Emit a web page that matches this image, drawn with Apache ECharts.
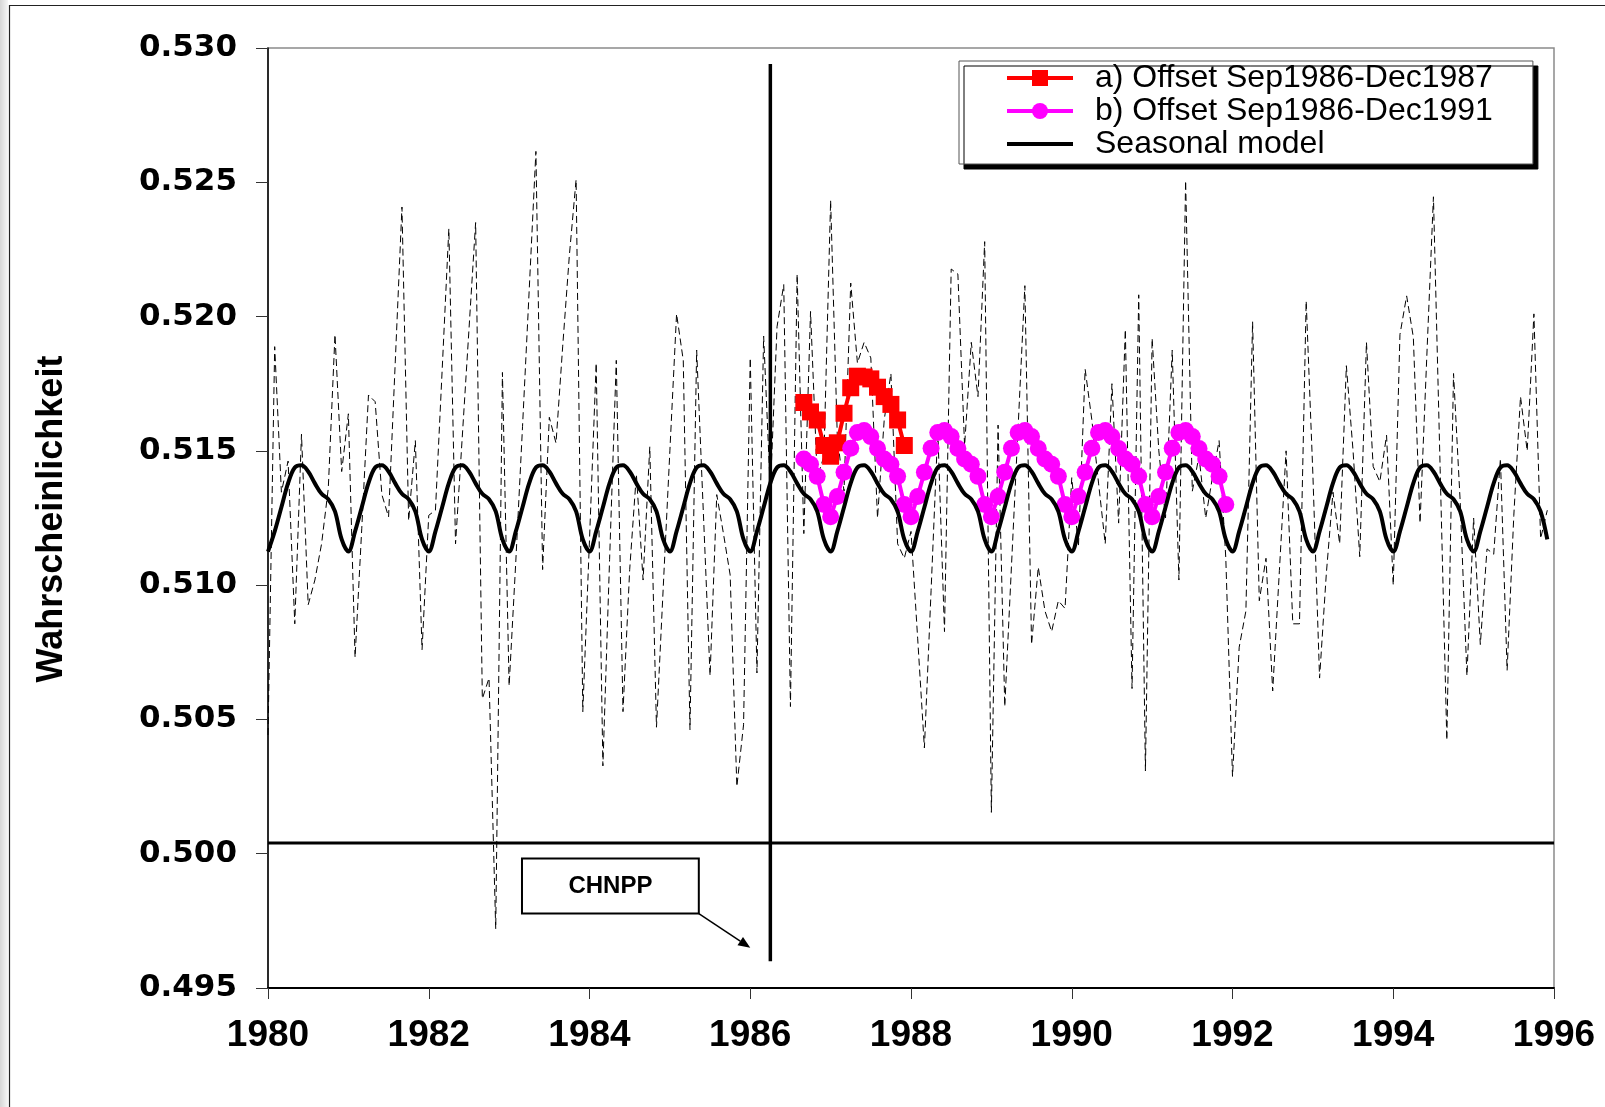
<!DOCTYPE html>
<html>
<head>
<meta charset="utf-8">
<script src="https://cdn.jsdelivr.net/npm/echarts@6/dist/echarts.min.js"></script>
<style>
  html, body { margin: 0; padding: 0; background: #fff; }
  #chart { width: 1605px; height: 1107px; }
</style>
</head>
<body>
<div id="chart"></div>
<script>
// Monthly observed values, Jan 1980 .. Dec 1995 (one row per year)
const observed = [
  0.50442, 0.51888, 0.51346, 0.51462, 0.50856, 0.51562, 0.50927, 0.51019, 0.51154, 0.51360, 0.51933, 0.51423,
  0.51638, 0.50731, 0.51212, 0.51708, 0.51683, 0.51337, 0.51254, 0.51831, 0.52408, 0.51240, 0.51538, 0.50760,
  0.51260, 0.51279, 0.51800, 0.52327, 0.51154, 0.51550, 0.51950, 0.52350, 0.50577, 0.50654, 0.49720, 0.51792,
  0.50625, 0.51090, 0.51590, 0.52100, 0.52615, 0.51058, 0.51625, 0.51529, 0.51890, 0.52230, 0.52510, 0.50529,
  0.51170, 0.51827, 0.50327, 0.51096, 0.51837, 0.50529, 0.51058, 0.51413, 0.51019, 0.51515, 0.50471, 0.50987,
  0.51500, 0.52010, 0.51837, 0.50462, 0.51875, 0.51269, 0.50663, 0.51337, 0.51192, 0.51038, 0.50250, 0.50480,
  0.51846, 0.50673, 0.51927, 0.51350, 0.51962, 0.52119, 0.50548, 0.52158, 0.51192, 0.52019, 0.51400, 0.51480,
  0.52433, 0.51550, 0.51350, 0.52125, 0.51827, 0.51904, 0.51846, 0.51250, 0.51615, 0.51788, 0.51154, 0.51100,
  0.51200, 0.50800, 0.50394, 0.50981, 0.51577, 0.50827, 0.52177, 0.52158, 0.51519, 0.51904, 0.51702, 0.52279,
  0.50154, 0.51596, 0.50548, 0.51071, 0.51592, 0.52115, 0.50779, 0.51067, 0.50904, 0.50827, 0.50942, 0.50913,
  0.51400, 0.51144, 0.51804, 0.51615, 0.51380, 0.51154, 0.51750, 0.51231, 0.51952, 0.50615, 0.52081, 0.50308,
  0.51919, 0.51500, 0.51250, 0.51875, 0.51019, 0.52506, 0.51350, 0.51480, 0.51250, 0.51400, 0.51538, 0.51100,
  0.50288, 0.50769, 0.50904, 0.51981, 0.50942, 0.51100, 0.50606, 0.51054, 0.51500, 0.50856, 0.50856, 0.52058,
  0.51413, 0.50654, 0.51040, 0.51346, 0.51154, 0.51817, 0.51500, 0.51106, 0.51904, 0.51442, 0.51385, 0.51558,
  0.51000, 0.51933, 0.52077, 0.51923, 0.51231, 0.51846, 0.52446, 0.51435, 0.50423, 0.51788, 0.51308, 0.50663,
  0.51250, 0.50779, 0.51135, 0.51115, 0.51471, 0.50683, 0.51260, 0.51702, 0.51500, 0.52010, 0.51173, 0.51279
];
const observedStart = 1980;

// Seasonal model: the same monthly profile (Jan..Dec) in every year 1980..1995
const seasonalProfile = [0.51125, 0.51200, 0.51290, 0.51380, 0.51438, 0.51446, 0.51423, 0.51379, 0.51340, 0.51320, 0.51275, 0.51170];
const modelYears = [1980, 1981, 1982, 1983, 1984, 1985, 1986, 1987, 1988, 1989, 1990, 1991, 1992, 1993, 1994, 1995];

// a) model with offset, Sep 1986 .. Dec 1987
const offsetA = [
  0.51680, 0.51645, 0.51615, 0.51520,
  0.51480, 0.51530, 0.51640, 0.51735, 0.51778, 0.51775, 0.51768, 0.51737, 0.51702, 0.51673, 0.51615, 0.51520
];
// b) model with offset, Sep 1986 .. Dec 1991
const offsetB = [
  0.51470, 0.51450, 0.51405, 0.51300,
  0.51255, 0.51330, 0.51420, 0.51510, 0.51568, 0.51576, 0.51553, 0.51509, 0.51470, 0.51450, 0.51405, 0.51300,
  0.51255, 0.51330, 0.51420, 0.51510, 0.51568, 0.51576, 0.51553, 0.51509, 0.51470, 0.51450, 0.51405, 0.51300,
  0.51255, 0.51330, 0.51420, 0.51510, 0.51568, 0.51576, 0.51553, 0.51509, 0.51470, 0.51450, 0.51405, 0.51300,
  0.51255, 0.51330, 0.51420, 0.51510, 0.51568, 0.51576, 0.51553, 0.51509, 0.51470, 0.51450, 0.51405, 0.51300,
  0.51255, 0.51330, 0.51420, 0.51510, 0.51568, 0.51576, 0.51553, 0.51509, 0.51470, 0.51450, 0.51405, 0.51300
];
const offsetStart = 1986 + 8 / 12;   // September 1986

// reference markers
const accidentDate = 1986.25;          // April 1986
const accidentSpan = [0.4960, 0.5294];
const baselineLevel = 0.5004;

// axes
const xRange = [1980, 1996];
const xStep = 2;
const yRange = [0.495, 0.530];
const yStep = 0.005;

const nameA = 'a) Offset Sep1986-Dec1987';
const nameB = 'b) Offset Sep1986-Dec1991';
const nameS = 'Seasonal model';

function monthly(start, values) {
  return values.map((v, i) => [start + i / 12, v]);
}
const seasonalValues = [];
modelYears.forEach(() => seasonalProfile.forEach(v => seasonalValues.push(v)));

const chart = echarts.init(document.getElementById('chart'), null, { renderer: 'canvas' });

chart.setOption({
  animation: false,
  backgroundColor: '#ffffff',
  grid: {
    left: 268, right: 51, top: 48, bottom: 119,
    show: true, borderColor: '#8a8a8a', borderWidth: 1.5, backgroundColor: 'transparent'
  },
  xAxis: {
    type: 'value', min: xRange[0], max: xRange[1], interval: xStep,
    axisLine: { show: true, onZero: false, lineStyle: { color: '#000', width: 2 } },
    axisTick: { show: true, length: 11, lineStyle: { color: '#333', width: 1 } },
    axisLabel: {
      margin: 29, fontSize: 37, fontFamily: 'Liberation Sans', fontWeight: 'bold', color: '#000',
      showMinLabel: true, showMaxLabel: true,
      formatter: v => String(Math.round(v))
    },
    splitLine: { show: false }
  },
  yAxis: {
    type: 'value', min: yRange[0], max: yRange[1], interval: yStep,
    axisLine: { show: true, onZero: false, lineStyle: { color: '#000', width: 1.5 } },
    axisTick: { show: true, length: 12, lineStyle: { color: '#333', width: 1 } },
    axisLabel: {
      margin: 31, fontSize: 31, fontFamily: 'DejaVu Sans', fontWeight: 'bold', color: '#000',
      formatter: v => v.toFixed(3)
    },
    splitLine: { show: false }
  },
  legend: {
    orient: 'vertical', left: 959, top: 61,
    data: [
      { name: nameA },
      { name: nameB },
      { name: nameS, itemStyle: { opacity: 0 } }
    ],
    selectedMode: false,
    itemWidth: 66, itemHeight: 20, itemGap: 1,
    padding: [1, 40, 4, 46],
    lineStyle: { width: 4 },
    backgroundColor: '#ffffff', borderColor: '#555', borderWidth: 1,
    shadowColor: '#000', shadowBlur: 0, shadowOffsetX: 5, shadowOffsetY: 5,
    textStyle: { fontFamily: 'Liberation Sans', fontSize: 32, color: '#000', lineHeight: 32, padding: [0, 0, 0, 17] }
  },
  series: [
    {
      name: 'Monthly values', type: 'line', data: monthly(observedStart, observed),
      symbol: 'none', silent: true, z: 1,
      lineStyle: { color: '#000', width: 1, type: [7, 4] }
    },
    {
      name: nameA, type: 'line', data: monthly(offsetStart, offsetA),
      symbol: 'rect', symbolSize: 17, showAllSymbol: true, z: 3,
      itemStyle: { color: '#ff0000' }, lineStyle: { color: '#ff0000', width: 4 }
    },
    {
      name: nameB, type: 'line', data: monthly(offsetStart, offsetB),
      symbol: 'circle', symbolSize: 17, showAllSymbol: true, z: 4,
      itemStyle: { color: '#ff00ff' }, lineStyle: { color: '#ff00ff', width: 4 }
    },
    {
      name: nameS, type: 'line', data: monthly(modelYears[0], seasonalValues),
      symbol: 'none', smooth: 0.35, z: 5,
      itemStyle: { color: '#000' }, lineStyle: { color: '#000', width: 4 }
    },
    {
      name: 'accident', type: 'line', silent: true, symbol: 'none', z: 6,
      data: [[accidentDate, accidentSpan[0]], [accidentDate, accidentSpan[1]]],
      lineStyle: { color: '#000', width: 3.5 }
    },
    {
      name: 'baseline', type: 'line', silent: true, symbol: 'none', z: 6,
      data: [[xRange[0], baselineLevel], [xRange[1], baselineLevel]],
      lineStyle: { color: '#000', width: 3 }
    }
  ]
});

// annotation box with arrow, anchored in data coordinates
const boxTL = chart.convertToPixel({ gridIndex: 0 }, [1983.16, 0.49982]);
const boxBR = chart.convertToPixel({ gridIndex: 0 }, [1985.36, 0.49777]);
const tip = chart.convertToPixel({ gridIndex: 0 }, [1986.0, 0.4965]);
const ang = Math.atan2(tip[1] - boxBR[1], tip[0] - boxBR[0]);
const headLen = 12, headW = 5;
const hb = [tip[0] - headLen * Math.cos(ang), tip[1] - headLen * Math.sin(ang)];
const head = [
  tip,
  [hb[0] + headW * Math.sin(ang), hb[1] - headW * Math.cos(ang)],
  [hb[0] - headW * Math.sin(ang), hb[1] + headW * Math.cos(ang)]
];

chart.setOption({
  graphic: [
    {
      type: 'rect', silent: true, z: 0,
      shape: { x: 0, y: 0, width: 8, height: 1107 },
      style: { fill: new echarts.graphic.LinearGradient(0, 0, 1, 0, [
        { offset: 0, color: '#d6d6d6' }, { offset: 1, color: '#f6f6f6' }]) }
    },
    {
      type: 'rect', silent: true, z: 0,
      shape: { x: 9.5, y: 5.5, width: 1700, height: 1200 },
      style: { fill: 'none', stroke: '#222', lineWidth: 1.2 }
    },
    {
      type: 'text', silent: true,
      x: 52, y: 519, rotation: Math.PI / 2,
      style: {
        text: 'Wahrscheinlichkeit', fill: '#000',
        font: 'bold 36px "Liberation Sans"', align: 'center', verticalAlign: 'middle'
      }
    },
    {
      type: 'rect', silent: true, z: 10,
      shape: { x: boxTL[0], y: boxTL[1], width: boxBR[0] - boxTL[0], height: boxBR[1] - boxTL[1] },
      style: { fill: '#fff', stroke: '#000', lineWidth: 2 }
    },
    {
      type: 'text', silent: true, z: 11,
      x: (boxTL[0] + boxBR[0]) / 2, y: (boxTL[1] + boxBR[1]) / 2,
      style: { text: 'CHNPP', fill: '#000', font: 'bold 24px "Liberation Sans"', align: 'center', verticalAlign: 'middle' }
    },
    {
      type: 'line', silent: true, z: 11,
      shape: { x1: boxBR[0], y1: boxBR[1], x2: hb[0], y2: hb[1] },
      style: { stroke: '#000', lineWidth: 1.5 }
    },
    {
      type: 'polygon', silent: true, z: 11,
      shape: { points: head },
      style: { fill: '#000' }
    }
  ]
});
</script>
</body>
</html>
